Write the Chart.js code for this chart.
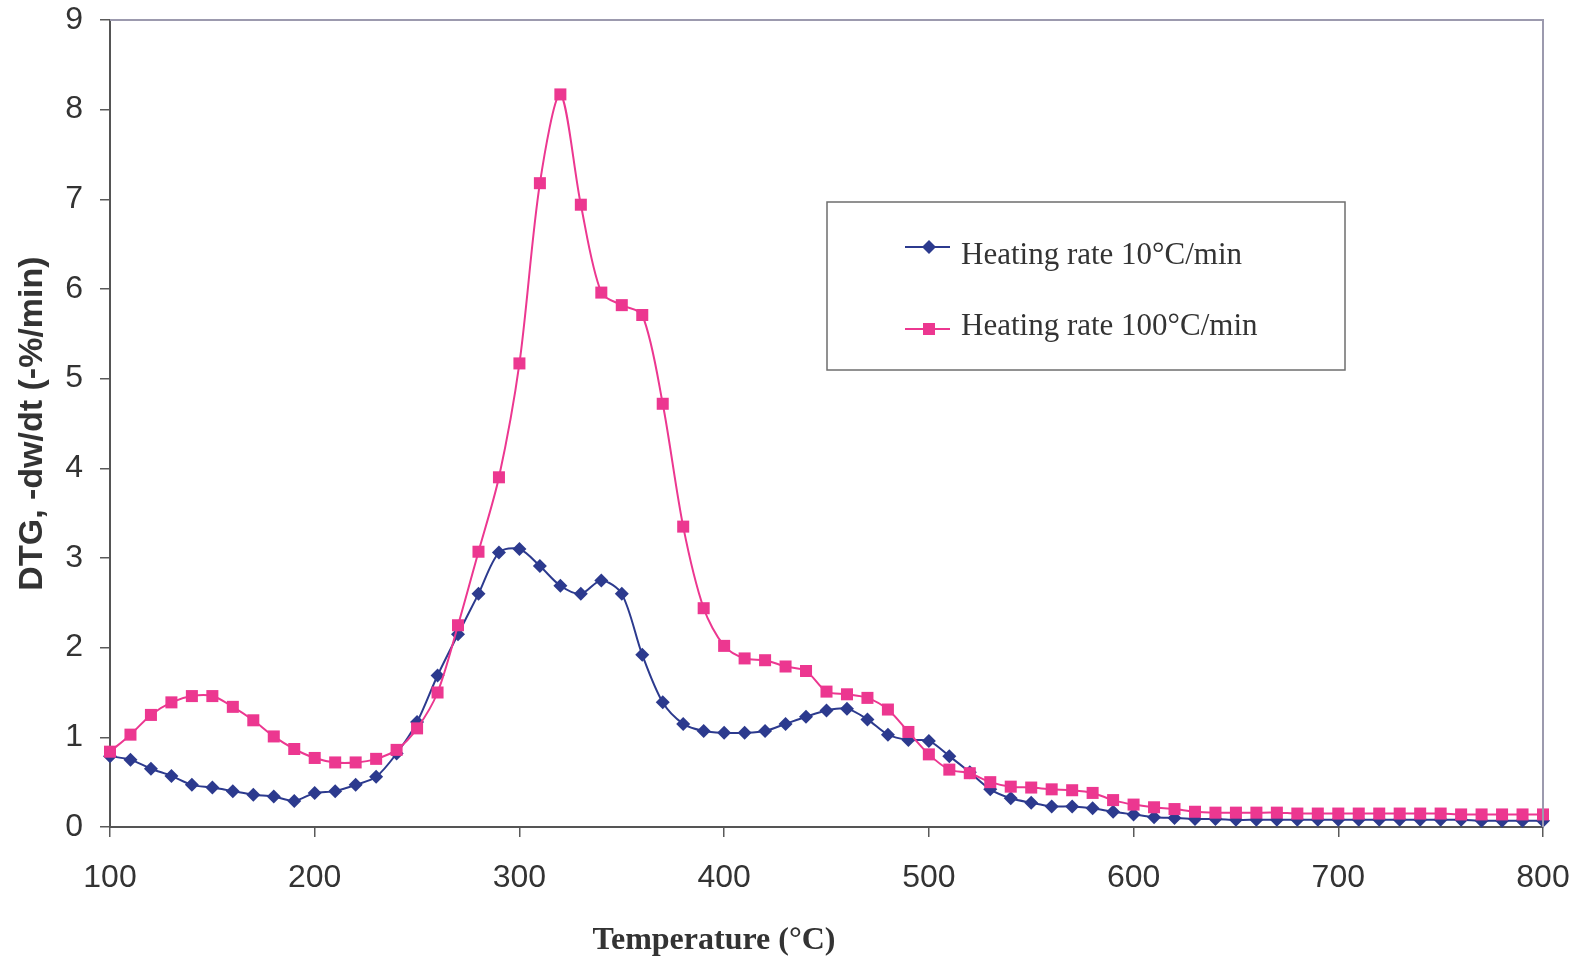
<!DOCTYPE html>
<html>
<head>
<meta charset="utf-8">
<script src="https://cdn.jsdelivr.net/npm/chart.js@4.4.0/dist/chart.umd.min.js"></script>
<style>
  html, body { margin: 0; padding: 0; background: #ffffff; }
  #wrap { width: 1585px; height: 960px; position: relative; }
</style>
</head>
<body>
<div id="wrap"><canvas id="c" width="1585" height="960"></canvas></div>
<script>
// Temperature (°C) at each measurement
const temperatures = [
  100, 110, 120, 130, 140, 150, 160, 170, 180, 190,
  200, 210, 220, 230, 240, 250, 260, 270, 280, 290,
  300, 310, 320, 330, 340, 350, 360, 370, 380, 390,
  400, 410, 420, 430, 440, 450, 460, 470, 480, 490,
  500, 510, 520, 530, 540, 550, 560, 570, 580, 590,
  600, 610, 620, 630, 640, 650, 660, 670, 680, 690,
  700, 710, 720, 730, 740, 750, 760, 770, 780, 790,
  800
];

// DTG (-%/min) at 10 °C/min
const rate10 = [
  0.79, 0.75, 0.65, 0.57, 0.47, 0.44, 0.40, 0.36, 0.34, 0.29,
  0.38, 0.40, 0.47, 0.56, 0.82, 1.17, 1.69, 2.15, 2.60, 3.06,
  3.10, 2.91, 2.69, 2.60, 2.75, 2.60, 1.92, 1.39, 1.15, 1.07,
  1.05, 1.05, 1.07, 1.15, 1.23, 1.30, 1.32, 1.20, 1.03, 0.97,
  0.96, 0.79, 0.61, 0.42, 0.32, 0.27, 0.23, 0.23, 0.21, 0.17,
  0.14, 0.11, 0.10, 0.09, 0.09, 0.08, 0.08, 0.08, 0.08, 0.08,
  0.08, 0.08, 0.08, 0.08, 0.08, 0.08, 0.08, 0.07, 0.07, 0.07,
  0.07
];

// DTG (-%/min) at 100 °C/min
const rate100 = [
  0.84, 1.03, 1.25, 1.39, 1.46, 1.46, 1.34, 1.19, 1.01, 0.87,
  0.77, 0.72, 0.72, 0.76, 0.86, 1.10, 1.50, 2.25, 3.07, 3.90,
  5.17, 7.18, 8.17, 6.94, 5.96, 5.82, 5.71, 4.72, 3.35, 2.44,
  2.02, 1.88, 1.86, 1.79, 1.74, 1.51, 1.48, 1.44, 1.31, 1.06,
  0.81, 0.64, 0.60, 0.50, 0.45, 0.44, 0.42, 0.41, 0.38, 0.30,
  0.25, 0.22, 0.20, 0.17, 0.16, 0.16, 0.16, 0.16, 0.15, 0.15,
  0.15, 0.15, 0.15, 0.15, 0.15, 0.15, 0.14, 0.14, 0.14, 0.14,
  0.14
];

const xTickValues = [100, 200, 300, 400, 500, 600, 700, 800];
const yTickValues = [0, 1, 2, 3, 4, 5, 6, 7, 8, 9];
const seriesNames = ['Heating rate 10\u00B0C/min', 'Heating rate 100\u00B0C/min'];
const xTitle = 'Temperature (\u00B0C)';
const yTitle = 'DTG, -dw/dt (-%/min)';

const BLUE = '#2c3a8e';
const PINK = '#ec3790';
const TEXT = '#333333';

const toPoints = (ys) => temperatures.map((t, i) => ({ x: t, y: ys[i] }));

function diamond(ctx, x, y, r) {
  ctx.beginPath();
  ctx.moveTo(x, y - r); ctx.lineTo(x + r, y); ctx.lineTo(x, y + r); ctx.lineTo(x - r, y);
  ctx.closePath(); ctx.fill();
}
function square(ctx, x, y, h) {
  ctx.fillRect(x - h, y - h, 2 * h, 2 * h);
}

// Frame, axis titles and the boxed legend
const decorations = {
  id: 'decorations',
  afterDraw(chart) {
    const { ctx, chartArea: a } = chart;
    ctx.save();
    // light frame on the top and right of the plot
    ctx.strokeStyle = '#9c9aae';
    ctx.lineWidth = 2;
    ctx.beginPath();
    ctx.moveTo(a.left, a.top); ctx.lineTo(a.right, a.top); ctx.lineTo(a.right, a.bottom);
    ctx.stroke();

    // axis titles
    ctx.fillStyle = TEXT;
    ctx.textAlign = 'center';
    ctx.textBaseline = 'middle';
    ctx.font = 'bold 32px "Liberation Serif", "Times New Roman", serif';
    ctx.fillText(xTitle, 714, 941);
    ctx.save();
    ctx.translate(33, (a.top + a.bottom) / 2);
    ctx.rotate(-Math.PI / 2);
    ctx.font = 'bold 34px "Liberation Sans", Arial, sans-serif';
    ctx.fillText(yTitle, 0, 0);
    ctx.restore();

    // legend
    ctx.fillStyle = '#ffffff';
    ctx.fillRect(827, 202, 518, 168);
    ctx.strokeStyle = '#6e6e6e';
    ctx.lineWidth = 1.5;
    ctx.strokeRect(827, 202, 518, 168);
    const rows = [
      { y: 256, my: 247, color: BLUE, mark: 'diamond' },
      { y: 327, my: 329, color: PINK, mark: 'square' }
    ];
    ctx.font = '31px "Liberation Serif", "Times New Roman", serif';
    ctx.textAlign = 'left';
    rows.forEach((r, i) => {
      ctx.strokeStyle = r.color;
      ctx.fillStyle = r.color;
      ctx.lineWidth = 2;
      ctx.beginPath();
      ctx.moveTo(905, r.my); ctx.lineTo(950, r.my);
      ctx.stroke();
      if (r.mark === 'diamond') diamond(ctx, 929, r.my, 7);
      else square(ctx, 929, r.my, 6);
      ctx.fillStyle = TEXT;
      ctx.fillText(seriesNames[i], 961, r.y);
    });
    ctx.restore();
  }
};

const tickFont = { family: '"Liberation Sans", Arial, sans-serif', size: 32 };

new Chart(document.getElementById('c'), {
  type: 'line',
  data: {
    datasets: [
      {
        label: seriesNames[0],
        data: toPoints(rate10),
        borderColor: BLUE,
        backgroundColor: BLUE,
        borderWidth: 2,
        pointStyle: 'rectRot',
        pointRadius: 7,
        pointBorderWidth: 0,
        pointHoverRadius: 7,
        tension: 0.3,
        order: 2,
        clip: false
      },
      {
        label: seriesNames[1],
        data: toPoints(rate100),
        borderColor: PINK,
        backgroundColor: PINK,
        borderWidth: 2,
        pointStyle: 'rect',
        pointRadius: 8.5,
        pointBorderWidth: 0,
        pointHoverRadius: 8.5,
        tension: 0.3,
        order: 1,
        clip: false
      }
    ]
  },
  options: {
    responsive: false,
    devicePixelRatio: 1,
    animation: false,
    layout: { padding: { top: 20, right: 42, left: 0, bottom: 0 } },
    plugins: { legend: { display: false }, tooltip: { enabled: false } },
    scales: {
      x: {
        type: 'linear',
        min: 100,
        max: 800,
        afterBuildTicks: (s) => { s.ticks = xTickValues.map(v => ({ value: v })); },
        afterFit: (s) => { s.height = 133; s.paddingLeft = 0; s.paddingRight = 0; },
        ticks: { font: tickFont, color: TEXT, padding: 22, maxRotation: 0, autoSkip: false },
        grid: { display: true, drawOnChartArea: false, drawTicks: true, tickLength: 10, color: '#5a5a5a', lineWidth: 1.5 },
        border: { display: true, color: '#555555', width: 2 }
      },
      y: {
        min: 0,
        max: 9,
        afterBuildTicks: (s) => { s.ticks = yTickValues.map(v => ({ value: v })); },
        afterFit: (s) => { s.width = 110; s.paddingTop = 0; s.paddingBottom = 0; },
        ticks: { font: tickFont, color: TEXT, padding: 17 },
        grid: { display: true, drawOnChartArea: false, drawTicks: true, tickLength: 10, color: '#5a5a5a', lineWidth: 1.5 },
        border: { display: true, color: '#555555', width: 2 }
      }
    }
  },
  plugins: [decorations]
});
</script>
</body>
</html>
